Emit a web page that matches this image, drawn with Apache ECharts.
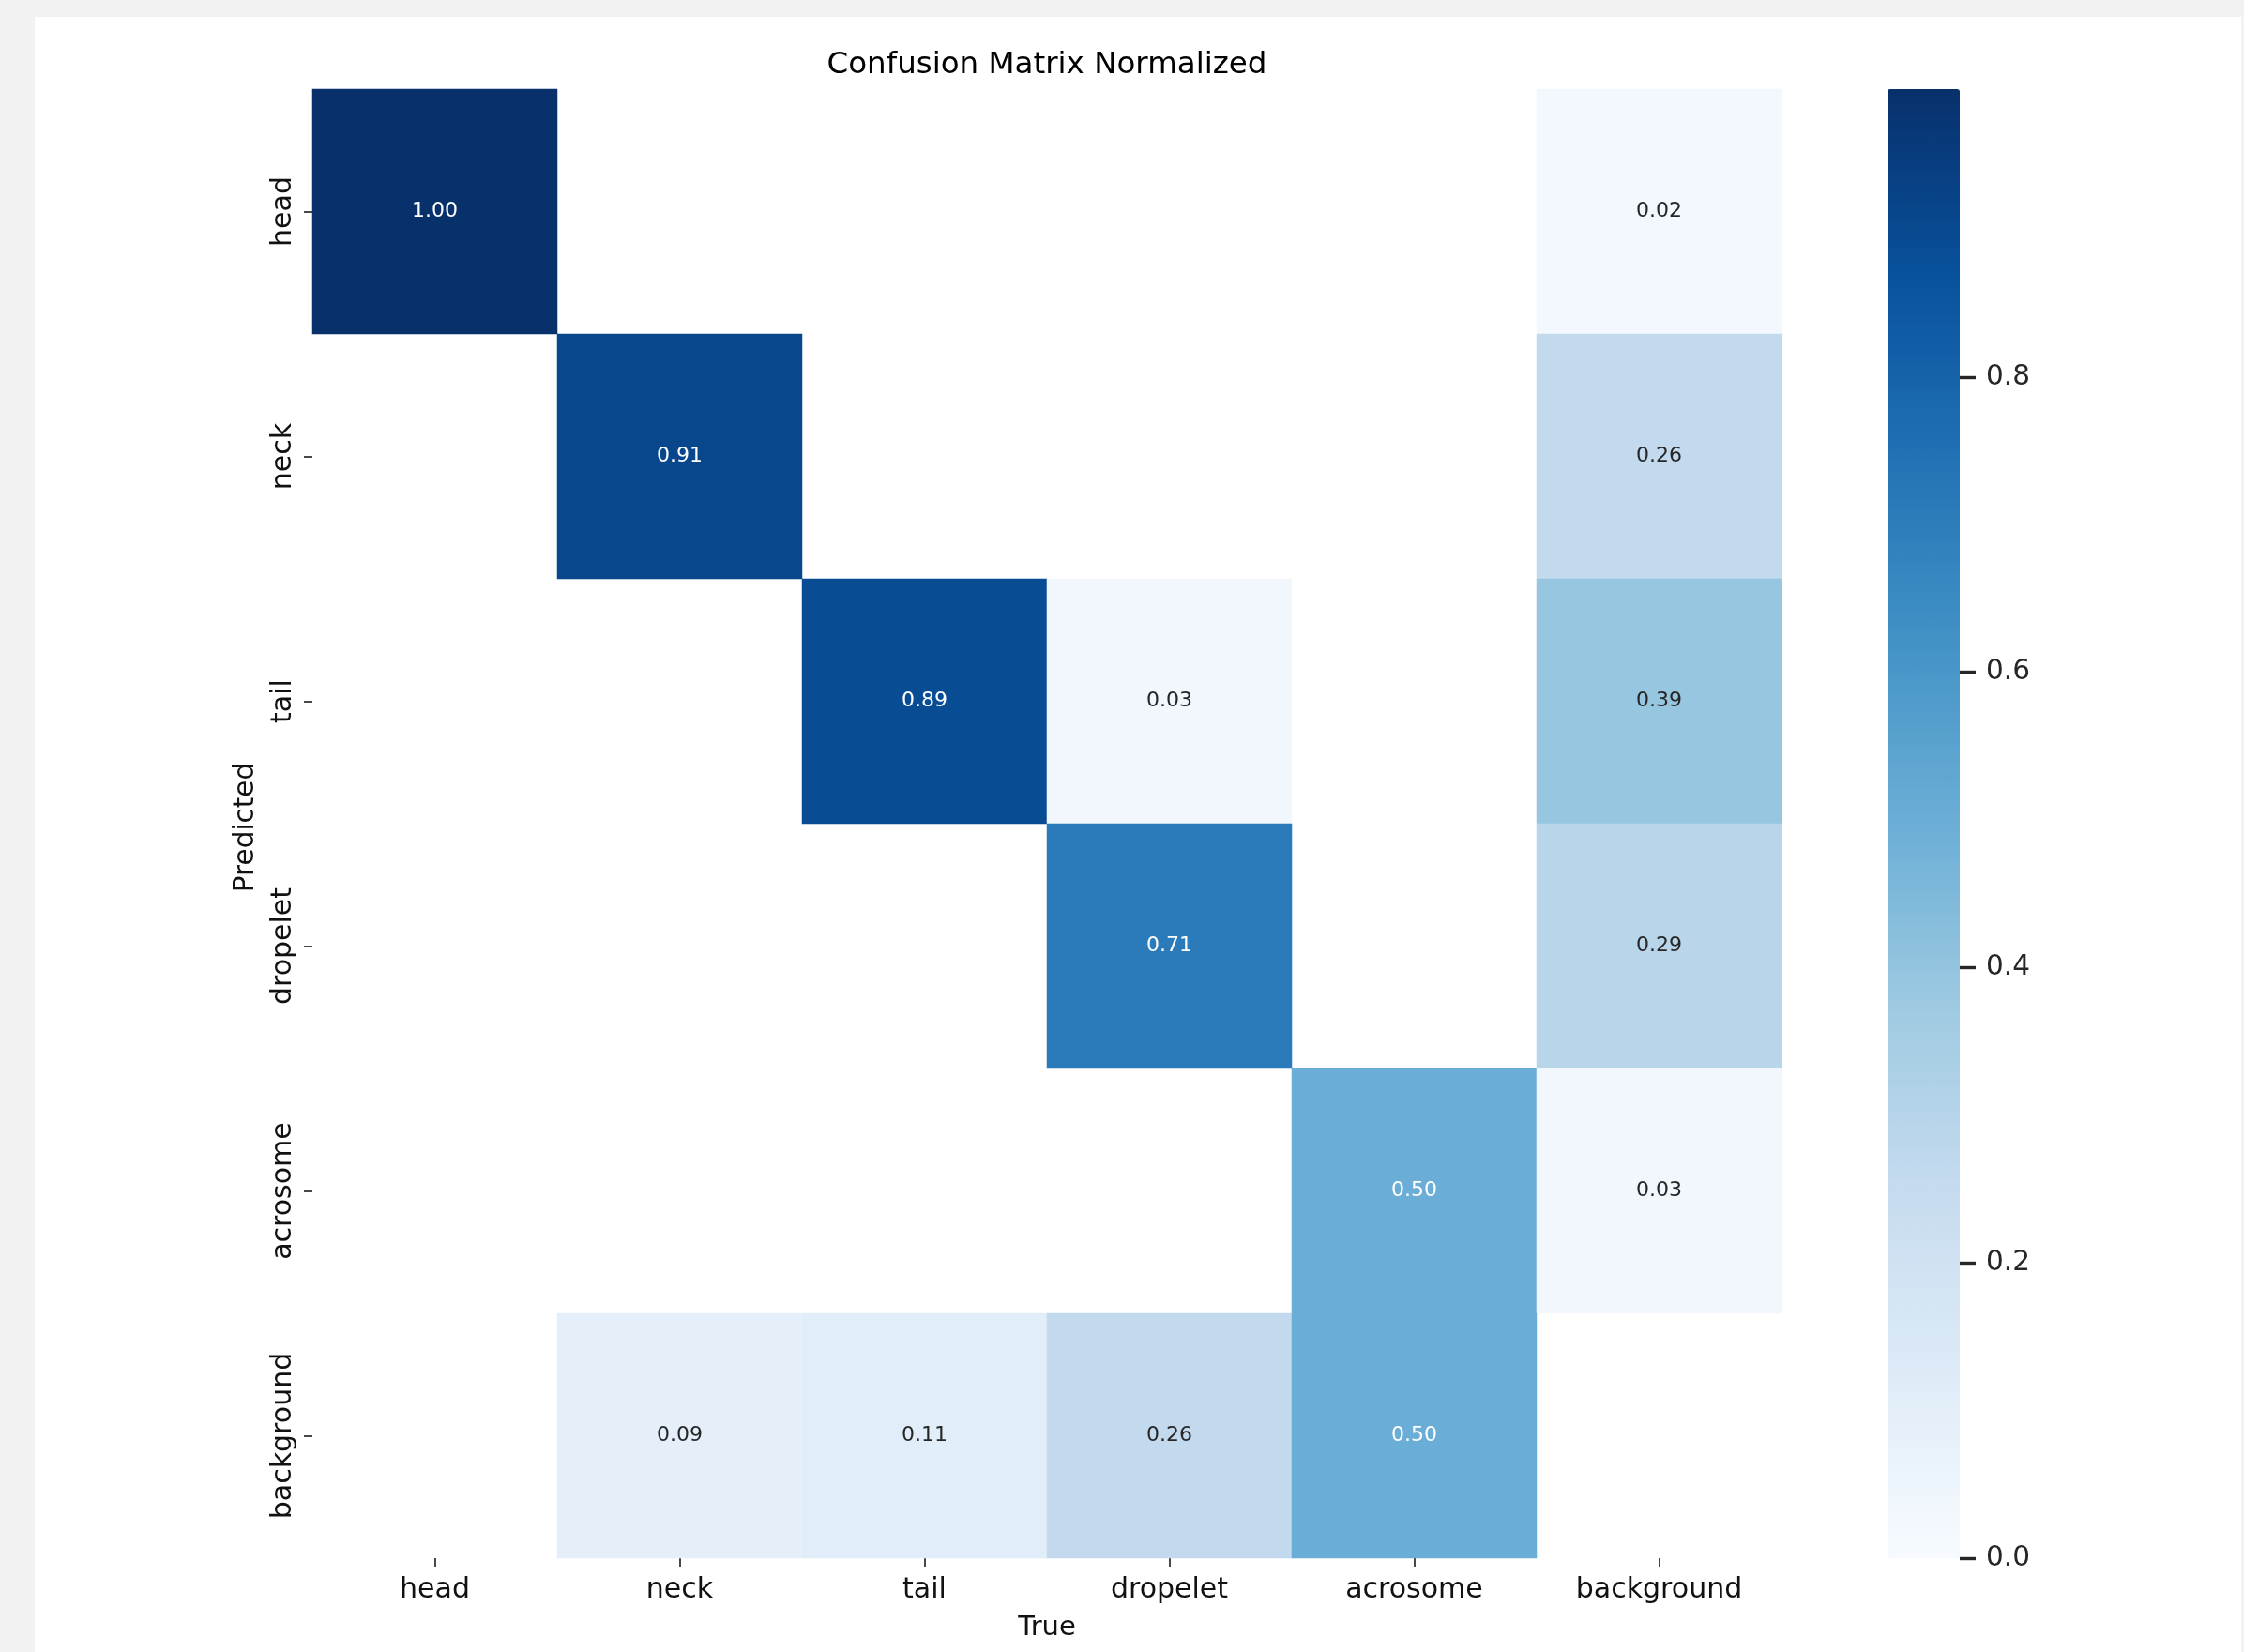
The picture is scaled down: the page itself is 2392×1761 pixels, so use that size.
<!DOCTYPE html>
<html>
<head>
<meta charset="utf-8">
<script src="https://cdn.jsdelivr.net/npm/echarts@6/dist/echarts.min.js"></script>
<style>
  html, body { margin: 0; padding: 0; background: #f2f2f2; }
  #panel { position: absolute; left: 37px; top: 18px; width: 2352px; height: 1743px; background: #ffffff; }
  #chart { position: absolute; left: 0; top: 0; width: 2392px; height: 1761px; }
</style>
</head>
<body>
<div id="panel"></div>
<div id="chart"></div>
<script>
// ---- data (rows = Predicted, columns = True; null = empty cell) ----
const categories = ['head', 'neck', 'tail', 'dropelet', 'acrosome', 'background'];
const predHead       = [1.00, null, null, null, null, 0.02];
const predNeck       = [null, 0.91, null, null, null, 0.26];
const predTail       = [null, null, 0.89, 0.03, null, 0.39];
const predDropelet   = [null, null, null, 0.71, null, 0.29];
const predAcrosome   = [null, null, null, null, 0.50, 0.03];
const predBackground = [null, 0.09, 0.11, 0.26, 0.50, null];
const colorbarTicks  = [0, 0.2, 0.4, 0.6, 0.8];
const colorMax = 0.995;

const rows = [predHead, predNeck, predTail, predDropelet, predAcrosome, predBackground];
const blues = ['#f7fbff', '#deebf7', '#c6dbef', '#9ecae1', '#6baed6', '#4292c6', '#2171b5', '#08519c', '#08306b'];

const heatData = [];
rows.forEach(function (row, y) {
  row.forEach(function (v, x) {
    if (v === null) return;
    heatData.push({
      value: [x, y, v],
      label: { color: v >= 0.45 ? '#ffffff' : '#262626' }
    });
  });
});

// colorbar geometry: bar spans 0..colorMax over 1566px from top 95
const barTop = 95, barH = 1566, barBottom = barTop + barH;
const tickMax = colorbarTicks[colorbarTicks.length - 1];
const tickAxisH = barH * tickMax / colorMax;

const FONT = 'DejaVu Sans';
const chart = echarts.init(document.getElementById('chart'), null, { renderer: 'canvas' });
chart.setOption({
  backgroundColor: 'transparent',
  animation: false,
  title: {
    text: 'Confusion Matrix Normalized',
    left: 1111,
    top: 48,
    textAlign: 'center',
    textStyle: { fontFamily: FONT, fontSize: 32.5, fontWeight: 'normal', color: '#000000' }
  },
  grid: [
    { left: 333, top: 95, width: 1566, height: 1566 },
    { left: 2012, top: barBottom - tickAxisH, width: 77, height: tickAxisH }
  ],
  xAxis: [
    {
      type: 'category', gridIndex: 0, data: categories, position: 'bottom',
      axisLine: { show: false },
      axisTick: { show: true, alignWithLabel: true, length: 9, lineStyle: { color: '#1a1a1a', width: 1.6 } },
      axisLabel: { fontFamily: FONT, fontSize: 30, color: '#111111', margin: 19 },
      splitLine: { show: false },
      name: 'True', nameLocation: 'middle', nameGap: 60,
      nameTextStyle: { fontFamily: FONT, fontSize: 29, color: '#111111' }
    },
    { type: 'value', gridIndex: 1, show: false, min: 0, max: 1, axisLine: { onZero: false } }
  ],
  yAxis: [
    {
      type: 'category', gridIndex: 0, data: categories, inverse: true, position: 'left',
      axisLine: { show: false },
      axisTick: { show: true, alignWithLabel: true, length: 9, lineStyle: { color: '#1a1a1a', width: 1.6 } },
      axisLabel: { fontFamily: FONT, fontSize: 30, color: '#111111', margin: 16, rotate: 90 },
      splitLine: { show: false },
      name: 'Predicted', nameLocation: 'middle', nameGap: 56,
      nameTextStyle: { fontFamily: FONT, fontSize: 29.5, color: '#111111', padding: [0, 8, 0, 0] }
    },
    {
      type: 'value', gridIndex: 1, position: 'right', min: 0, max: tickMax, interval: 0.2,
      axisLine: { show: false, onZero: false },
      splitLine: { show: false },
      axisTick: { show: true, length: 17, lineStyle: { color: '#262626', width: 3.4 } },
      axisLabel: {
        show: true, margin: 28, padding: [5, 0, 0, 0],
        fontFamily: FONT, fontSize: 29.5, color: '#262626',
        formatter: function (v) { return Number(v).toFixed(1); }
      }
    }
  ],
  visualMap: {
    type: 'continuous',
    seriesIndex: 0,
    min: 0,
    max: colorMax,
    calculable: false,
    orient: 'vertical',
    left: 2012,
    top: barTop,
    padding: 0,
    itemWidth: 77,
    itemHeight: barH,
    text: null,
    showLabel: false,
    inRange: { color: blues }
  },
  series: [
    {
      type: 'heatmap',
      xAxisIndex: 0,
      yAxisIndex: 0,
      data: heatData,
      label: {
        show: true,
        fontFamily: FONT,
        fontSize: 22,
        formatter: function (p) { return p.value[2].toFixed(2); }
      },
      emphasis: { disabled: true },
      itemStyle: { borderWidth: 0 }
    }
  ]
});
</script>
</body>
</html>
